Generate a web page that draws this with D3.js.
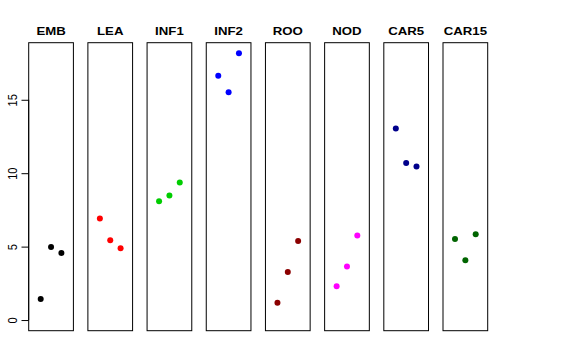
<!DOCTYPE html>
<html>
<head>
<meta charset="utf-8">
<script src="https://cdn.jsdelivr.net/npm/d3@7"></script>
<style>
  html, body { margin: 0; padding: 0; background: #fff; }
  svg { display: block; }
  text { font-family: "Liberation Sans", Arial, Helvetica, sans-serif; fill: #000; }
</style>
</head>
<body>
<svg id="chart" width="576" height="360"></svg>
<script>
const categories = ["EMB", "LEA", "INF1", "INF2", "ROO", "NOD", "CAR5", "CAR15"];
const colors = ["#000000", "#FF0000", "#00CD00", "#0000FF", "#8B0000", "#FF00FF", "#00008B", "#006400"];
const EMB   = [1.43, 4.98, 4.57];
const LEA   = [6.91, 5.43, 4.89];
const INF1  = [8.09, 8.48, 9.36];
const INF2  = [16.64, 15.52, 18.16];
const ROO   = [1.18, 3.27, 5.39];
const NOD   = [2.30, 3.64, 5.75];
const CAR5  = [13.05, 10.70, 10.45];
const CAR15 = [5.52, 4.07, 5.84];
const seriesValues = [EMB, LEA, INF1, INF2, ROO, NOD, CAR5, CAR15];
const yTicks = [0, 5, 10, 15];

const svg = d3.select("#chart");
const plotTop = 42.7, plotBottom = 330.7, panelW = 44.7;
const xStretch = 1.12;

const yMax = d3.max(seriesValues.flat());
const ypad = yMax * 0.04;
const y = d3.scaleLinear().domain([0 - ypad, yMax + ypad]).range([plotBottom, plotTop]);
const panelLeft = d3.scaleLinear().domain([0, categories.length - 1]).range([28.7, 443]);
const xIn = d3.scaleLinear().domain([-0.16, 4.16]).range([0, panelW]);

categories.forEach((cat, i) => {
  const g = svg.append("g").attr("transform", `translate(${panelLeft(i)},0)`);
  g.append("rect")
    .attr("x", 0).attr("y", plotTop)
    .attr("width", panelW).attr("height", plotBottom - plotTop)
    .attr("fill", "none").attr("stroke", "#000").attr("stroke-width", 1);
  g.selectAll("circle").data(seriesValues[i]).join("circle")
    .attr("cx", (d, j) => xIn(j + 1))
    .attr("cy", d => y(d))
    .attr("r", 3)
    .attr("fill", colors[i]);
  g.append("text")
    .attr("transform", `translate(${panelW / 2},${34.6}) scale(${xStretch},1)`)
    .attr("text-anchor", "middle")
    .attr("font-weight", "bold")
    .attr("font-size", "11.8px")
    .text(cat);
});

// y axis on first panel
const axisG = svg.append("g").attr("transform", `translate(${panelLeft(0)},0)`);
const axis = d3.axisLeft(y).tickValues(yTicks).tickSize(7.2).tickFormat("");
axisG.call(axis);
axisG.select(".domain").remove();
axisG.selectAll(".tick line").attr("stroke", "#000");
axisG.selectAll(".tick").append("text")
  .attr("transform", `translate(-16,0) scale(${xStretch},1) rotate(-90)`)
  .attr("text-anchor", "middle")
  .attr("dy", "0.35em")
  .attr("font-size", "11px")
  .attr("fill", "#000")
  .text(d => d);
axisG.append("line")
  .attr("x1", 0).attr("x2", 0)
  .attr("y1", y(0)).attr("y2", y(15))
  .attr("stroke", "#000");
</script>
</body>
</html>
